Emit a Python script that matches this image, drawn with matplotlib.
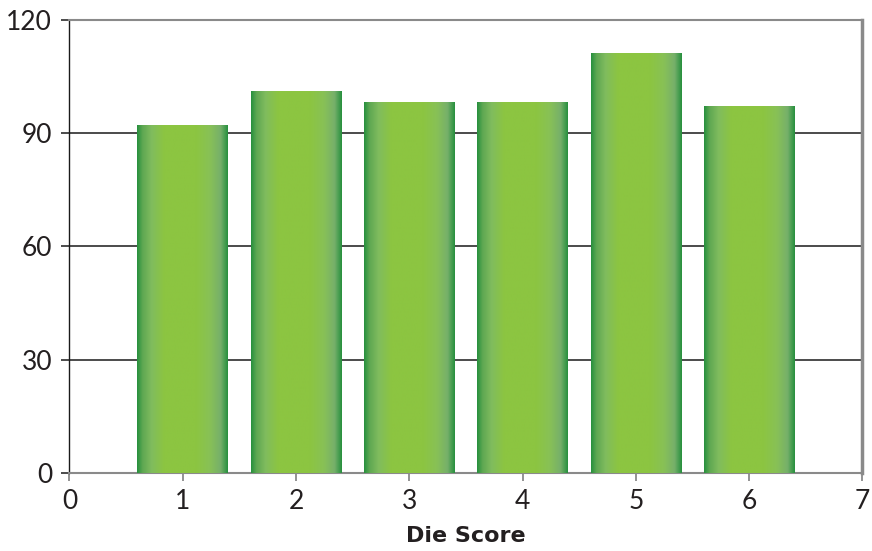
import numpy as np
import matplotlib.pyplot as plt
from matplotlib.colors import LinearSegmentedColormap

# die score frequencies
scores = [1, 2, 3, 4, 5, 6]
counts = [92, 101, 98, 98, 111, 97]

x_ticks = [0, 1, 2, 3, 4, 5, 6, 7]
y_ticks = [0, 30, 60, 90, 120]

bar_width = 0.8
grey = '#8a8a8a'
text_col = '#231f20'

# horizontal shading across each bar: dark edges, light green middle
bar_cmap = LinearSegmentedColormap.from_list('bar_shade', [
    (0.00, '#27903e'),
    (0.06, '#5ea752'),
    (0.16, '#80bc5e'),
    (0.30, '#8cc541'),
    (0.65, '#8cc541'),
    (0.80, '#88c156'),
    (0.92, '#76b06a'),
    (1.00, '#27903e'),
])
shade = np.linspace(0, 1, 256).reshape(1, -1)

plt.rcParams['font.family'] = ['Lato', 'DejaVu Sans']

fig = plt.figure(figsize=(8.72, 5.51), dpi=100)
ax = fig.add_axes([0.0797, 0.1416, 0.9093, 0.823])

for s, c in zip(scores, counts):
    ax.imshow(shade, cmap=bar_cmap, aspect='auto', interpolation='bilinear',
              extent=[s - bar_width / 2, s + bar_width / 2, 0, c], zorder=3)

# gridlines behind the bars
for yv in y_ticks[1:-1]:
    ax.axhline(yv, color='#1a1a1a', lw=1.1, zorder=1)

ax.set_xlim(0, 7)
ax.set_ylim(0, 120)
ax.set_xticks(x_ticks)
ax.set_yticks(y_ticks)

ax.spines['left'].set_color('#1a1a1a')
ax.spines['left'].set_linewidth(1.0)
ax.spines['bottom'].set_color(grey)
ax.spines['bottom'].set_linewidth(1.5)
ax.spines['top'].set_color(grey)
ax.spines['top'].set_linewidth(1.5)
ax.spines['right'].set_color(grey)
ax.spines['right'].set_linewidth(2.5)

ax.tick_params(axis='both', direction='out', length=5.5, labelsize=19,
               labelcolor=text_col)
ax.tick_params(axis='x', color=grey, width=1.3, pad=6)
ax.tick_params(axis='y', color='#1a1a1a', width=1.1, pad=7)
ax.xaxis.get_major_ticks()[0].tick1line.set_color('#1a1a1a')
for i in (0, len(y_ticks) - 1):
    ax.yaxis.get_major_ticks()[i].tick1line.set_color(grey)

ax.set_xlabel('Die Score', fontsize=16, fontweight='bold', color=text_col,
              family='DejaVu Sans', labelpad=9)

fig.savefig('out.png', dpi=100)
